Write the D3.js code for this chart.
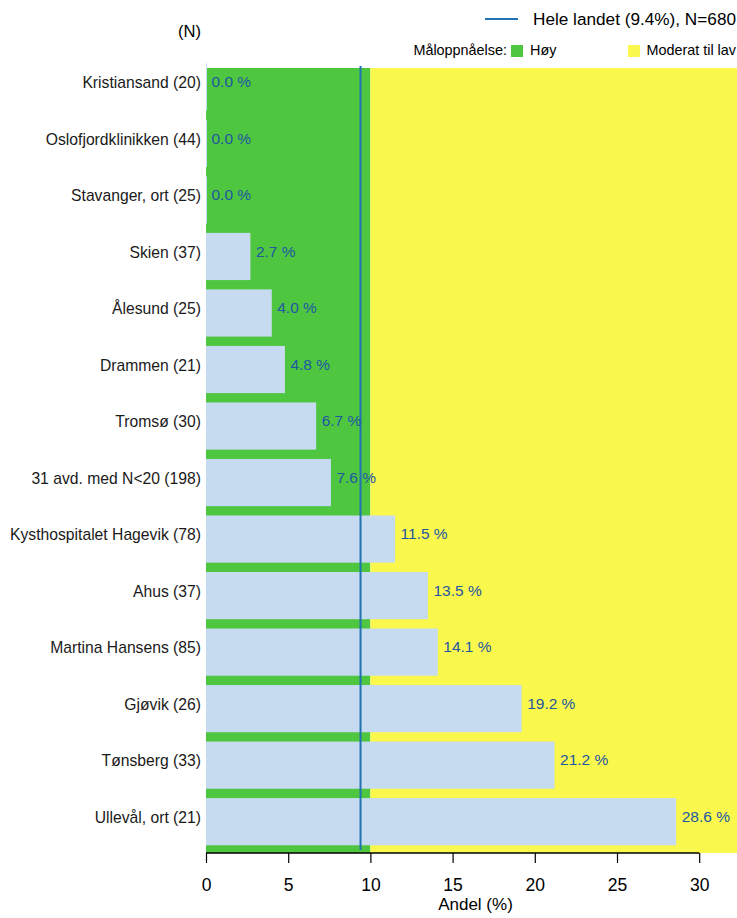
<!DOCTYPE html>
<html>
<head>
<meta charset="utf-8">
<script src="https://cdn.jsdelivr.net/npm/d3@7"></script>
<style>
  body { margin: 0; background: #fff; }
  text { font-family: "Liberation Sans", Arial, sans-serif; }
</style>
</head>
<body>
<div id="graph"></div>
<script>
// Data
var units   = [ 'Kristiansand', 'Oslofjordklinikken', 'Stavanger, ort', 'Skien', 'Ålesund', 'Drammen', 'Tromsø',
                '31 avd. med N<20', 'Kysthospitalet Hagevik', 'Ahus', 'Martina Hansens', 'Gjøvik', 'Tønsberg', 'Ullevål, ort' ];
var counts  = [ 20, 44, 25, 37, 25, 21, 30, 198, 78, 37, 85, 26, 33, 21 ];
var shares  = [ 0.0, 0.0, 0.0, 2.7, 4.0, 4.8, 6.7, 7.6, 11.5, 13.5, 14.1, 19.2, 21.2, 28.6 ];
var xTicks  = [ 0, 5, 10, 15, 20, 25, 30 ];
var national = 9.4;
var nationalN = 680;
var goalHigh = 10;     // green zone 0..10, yellow beyond
var xMax = 32.3;

var width = 737, height = 918;

var svg = d3.select ('#graph')
            .append ('svg')
            .attr ('width', width)
            .attr ('height', height);

var labels = units.map (function (u, i) { return u + ' (' + counts[i] + ')'; });

var xScale = d3.scaleLinear ()
               .domain ([ 0, xMax ])
               .range ([ 206, 737 ]);

var yScale = d3.scaleBand ()
               .domain (labels)
               .range ([ 58.8, 849.8 ])
               .paddingInner (0.165)
               .paddingOuter (0.08);

var bgTop = 68, bgBottom = 853;

// Target zones
svg.append ('rect')
   .attr ('x', xScale (0))
   .attr ('y', bgTop)
   .attr ('width', xScale (goalHigh) - xScale (0))
   .attr ('height', bgBottom - bgTop)
   .style ('fill', '#4fc640');

svg.append ('rect')
   .attr ('x', xScale (goalHigh))
   .attr ('y', bgTop)
   .attr ('width', xScale (xMax) - xScale (goalHigh))
   .attr ('height', bgBottom - bgTop)
   .style ('fill', '#fbf84d');

// Bars
svg.selectAll ('.bar')
   .data (shares)
   .enter ()
   .append ('rect')
   .attr ('class', 'bar')
   .attr ('x', xScale (0))
   .attr ('y', function (d, i) { return yScale (labels[i]); })
   .attr ('width', function (d) { return Math.max (xScale (d) - xScale (0), 1); })
   .attr ('height', yScale.bandwidth ())
   .style ('fill', '#c6dbef');

// National line
svg.append ('line')
   .attr ('x1', xScale (national))
   .attr ('x2', xScale (national))
   .attr ('y1', 66)
   .attr ('y2', 850)
   .style ('stroke', '#2171b5')
   .style ('stroke-width', 2);

// Value labels
svg.selectAll ('.val')
   .data (shares)
   .enter ()
   .append ('text')
   .attr ('class', 'val')
   .attr ('x', function (d) { return xScale (d) + 5.5; })
   .attr ('y', function (d, i) { return yScale (labels[i]) + yScale.bandwidth () / 2 - 4; })
   .attr ('dominant-baseline', 'middle')
   .style ('font-size', '15.5px')
   .style ('fill', '#2156a3')
   .text (function (d) { return d.toFixed (1) + ' %'; });

// Category labels
svg.selectAll ('.cat')
   .data (labels)
   .enter ()
   .append ('text')
   .attr ('class', 'cat')
   .attr ('x', 201)
   .attr ('y', function (d) { return yScale (d) + yScale.bandwidth () / 2 - 3; })
   .attr ('text-anchor', 'end')
   .attr ('dominant-baseline', 'middle')
   .style ('font-size', '15.7px')
   .style ('fill', '#1a1a1a')
   .text (function (d) { return d; });

svg.append ('text')
   .attr ('x', 201)
   .attr ('y', 33)
   .attr ('text-anchor', 'end')
   .attr ('dominant-baseline', 'middle')
   .style ('font-size', '16.6px')
   .text ('(N)');

// X axis
var xAxis = d3.axisBottom (xScale)
              .tickValues (xTicks)
              .tickSize (10)
              .tickPadding (16)
              .tickFormat (d3.format ('d'));

var gx = svg.append ('g')
            .attr ('transform', 'translate(0,' + bgBottom + ')')
            .call (xAxis);

gx.select ('.domain').remove ();
gx.append ('line')
  .attr ('x1', xScale (0))
  .attr ('x2', xScale (30))
  .style ('stroke', '#000')
  .style ('stroke-width', 1.5);
gx.selectAll ('.tick line').style ('stroke', '#000').style ('stroke-width', 1.2);
gx.selectAll ('.tick text')
  .style ('font-size', '17.5px')
  .style ('fill', '#000')
  .style ('font-family', '"Liberation Sans", Arial, sans-serif');

svg.append ('text')
   .attr ('x', 475.5)
   .attr ('y', 906)
   .attr ('text-anchor', 'middle')
   .attr ('dominant-baseline', 'middle')
   .style ('font-size', '17px')
   .text ('Andel (%)');

// Legend
svg.append ('line')
   .attr ('x1', 485)
   .attr ('x2', 518)
   .attr ('y1', 19)
   .attr ('y2', 19)
   .style ('stroke', '#2171b5')
   .style ('stroke-width', 2);

svg.append ('text')
   .attr ('x', 736)
   .attr ('y', 20)
   .attr ('text-anchor', 'end')
   .attr ('dominant-baseline', 'middle')
   .style ('font-size', '17.2px')
   .text ('Hele landet (' + national + '%), N=' + nationalN);

svg.append ('text')
   .attr ('x', 507)
   .attr ('y', 51)
   .attr ('text-anchor', 'end')
   .attr ('dominant-baseline', 'middle')
   .style ('font-size', '14.4px')
   .text ('Måloppnåelse:');

svg.append ('rect')
   .attr ('x', 511).attr ('y', 45).attr ('width', 12).attr ('height', 12)
   .style ('fill', '#4fc640');
svg.append ('text')
   .attr ('x', 530).attr ('y', 51)
   .attr ('dominant-baseline', 'middle')
   .style ('font-size', '14.4px')
   .text ('Høy');

svg.append ('rect')
   .attr ('x', 628).attr ('y', 45).attr ('width', 12).attr ('height', 12)
   .style ('fill', '#fbf84d');
svg.append ('text')
   .attr ('x', 736).attr ('y', 51)
   .attr ('text-anchor', 'end')
   .attr ('dominant-baseline', 'middle')
   .style ('font-size', '14.4px')
   .text ('Moderat til lav');
</script>
</body>
</html>
